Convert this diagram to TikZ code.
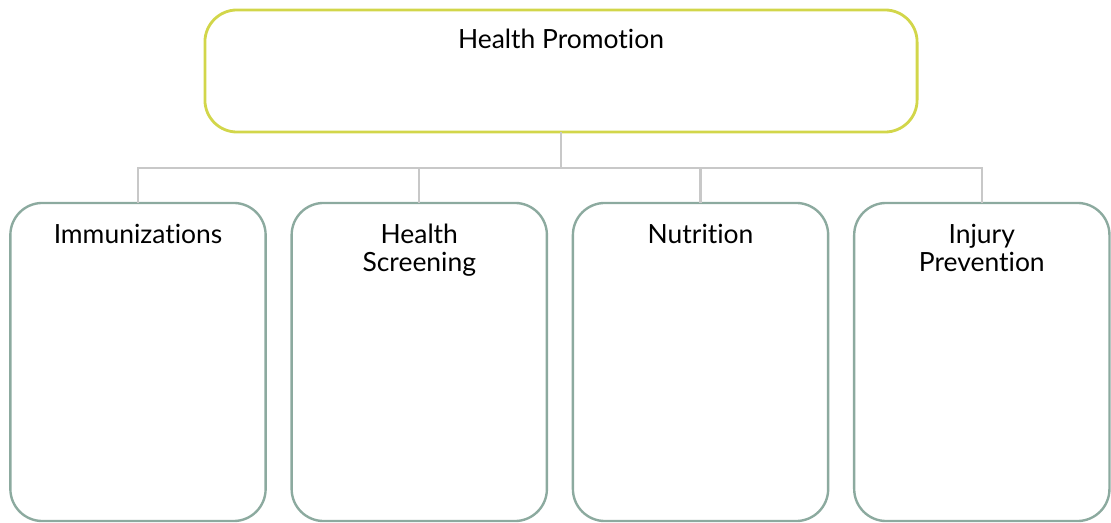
\documentclass[tikz,border=0pt]{standalone}
\usepackage{fontspec}
\setmainfont{Lato}[Ligatures=NoCommon]
\usetikzlibrary{positioning}
\definecolor{promoline}{HTML}{D2D64A}
\definecolor{arealine}{HTML}{8CAA9F}
\definecolor{linkgray}{HTML}{C8C8C8}
\tikzset{
  topbox/.style={
    draw=promoline, line width=2pt, rectangle, rounded corners=0.8cm,
    minimum width=17.8cm, minimum height=3.05cm, outer sep=0pt
  },
  areabox/.style={
    draw=arealine, line width=1.7pt, rectangle, rounded corners=0.8cm,
    minimum width=6.38cm, minimum height=7.95cm, outer sep=0pt
  },
  boxtitle/.style={
    anchor=north, align=center, font=\fontsize{18.8}{19.9}\selectfont
  },
  linkline/.style={draw=linkgray, line width=1.6pt}
}

\begin{document}
\begin{tikzpicture}[x=0.025cm, y=-0.025cm]
\useasboundingbox (0,0) rectangle (1111,523);

\node[topbox] (promo) at (561,71) {};
\node[boxtitle] (promotxt) at ([yshift=-0.36cm]promo.north) {Health Promotion};

\node[areabox] (immun) at (138,362) {};
\node[areabox, right=0.65cm of immun]  (screen) {};
\node[areabox, right=0.65cm of screen] (nutri)  {};
\node[areabox, right=0.65cm of nutri]  (injury) {};

\node[boxtitle] (immuntxt)  at ([yshift=-0.4cm]immun.north)  {Immunizations};
\node[boxtitle] (screentxt) at ([yshift=-0.4cm]screen.north) {Health\\Screening};
\node[boxtitle] (nutritxt)  at ([yshift=-0.4cm]nutri.north)  {Nutrition};
\node[boxtitle] (injurytxt) at ([yshift=-0.4cm]injury.north) {Injury\\Prevention};

\coordinate (hub) at (promo.south |- 0,168);
\draw[linkline] (promo.south) -- (hub);
\draw[linkline] (hub) -| (immun.north);
\draw[linkline] (hub) -| (screen.north);
\draw[linkline] (hub) -| (nutri.north);
\draw[linkline] (hub) -| (injury.north);
\end{tikzpicture}
\end{document}
